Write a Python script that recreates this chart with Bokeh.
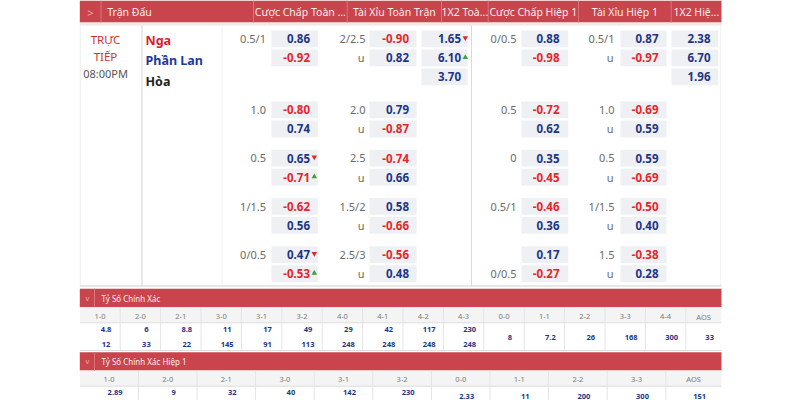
from bokeh.plotting import figure
from bokeh.models import Range1d, ColumnDataSource
from bokeh.core.properties import value
from bokeh.embed import file_html
from bokeh.resources import INLINE

# ---------------- data ----------------
header_titles = ["Trận Đấu", "Cược Chấp Toàn ...", "Tài Xỉu Toàn Trận", "1X2 Toà...",
                 "Cược Chấp Hiệp 1", "Tài Xỉu Hiệp 1", "1X2 Hiệ..."]
status_lines = ["TRỰC", "TIẾP"]
kickoff_time = "08:00PM"
team_names = ["Nga", "Phần Lan", "Hòa"]

ft_hdp_lines = ["0.5/1", "1.0", "0.5", "1/1.5", "0/0.5"]
ft_hdp_home = [0.86, -0.80, 0.65, -0.62, 0.47]
ft_hdp_away = [-0.92, 0.74, -0.71, 0.56, -0.53]
ft_hdp_home_move = ["", "", "down", "", "down"]
ft_hdp_away_move = ["", "", "up", "", "up"]

ft_ou_lines = ["2/2.5", "2.0", "2.5", "1.5/2", "2.5/3"]
ft_ou_over = [-0.90, 0.79, -0.74, 0.58, -0.56]
ft_ou_under = [0.82, -0.87, 0.66, -0.66, 0.48]

ft_1x2 = [1.65, 6.10, 3.70]
ft_1x2_move = ["down", "up", ""]

ht_hdp_lines = ["0/0.5", "0.5", "0", "0.5/1", "0/0.5"]
ht_hdp_line_row = [0, 0, 0, 0, 1]
ht_hdp_home = [0.88, -0.72, 0.35, -0.46, 0.17]
ht_hdp_away = [-0.98, 0.62, -0.45, 0.36, -0.27]

ht_ou_lines = ["0.5/1", "1.0", "0.5", "1/1.5", "1.5"]
ht_ou_over = [0.87, -0.69, 0.59, -0.50, -0.38]
ht_ou_under = [-0.97, 0.59, -0.69, 0.40, 0.28]

ht_1x2 = [2.38, 6.70, 1.96]

cs_title = "Tỷ Số Chính Xác"
cs_labels = ["1-0", "2-0", "2-1", "3-0", "3-1", "3-2", "4-0", "4-1", "4-2", "4-3",
             "0-0", "1-1", "2-2", "3-3", "4-4", "AOS"]
cs_first = [4.8, 6, 8.8, 11, 17, 49, 29, 42, 117, 230, 8, 7.2, 26, 168, 300, 33]
cs_second = [12, 33, 22, 145, 91, 113, 248, 248, 248, 248, None, None, None, None, None, None]

ht_cs_title = "Tỷ Số Chính Xác Hiệp 1"
ht_cs_labels = ["1-0", "2-0", "2-1", "3-0", "3-1", "3-2", "0-0", "1-1", "2-2", "3-3", "AOS"]
ht_cs_first = [2.89, 9, 32, 40, 142, 230, 2.33, 11, 200, 300, 151]
ht_cs_two_line = [True, True, True, True, True, True, False, False, False, False, False]

# ---------------- style ----------------
FONT = value("Noto Sans")
RED_BG = "#c9444d"
HDR_TXT = "#fcecec"
SEP = "#d8737a"
BLUE = "#1d3585"
RED = "#e3262b"
BOX = "#eef0f3"
GRAY_TXT = "#6b6b6b"

p = figure(width=800, height=400, x_range=Range1d(0, 800), y_range=Range1d(400, 0),
           output_backend="svg", toolbar_location=None, min_border=0,
           x_axis_location=None, y_axis_location=None)
p.grid.visible = False
p.outline_line_color = None
p.background_fill_color = "white"
p.border_fill_color = "white"

rects = dict(left=[], right=[], top=[], bottom=[], color=[])
segs = dict(x0=[], y0=[], x1=[], y1=[], color=[])
texts = {a: dict(x=[], y=[], text=[], color=[], size=[], style=[]) for a in ("left", "center", "right")}
tris = dict(x=[], y=[], marker=[], color=[])


def box(l, r, t, b, c):
    rects["left"].append(l); rects["right"].append(r)
    rects["top"].append(t); rects["bottom"].append(b); rects["color"].append(c)


def seg(x0, y0, x1, y1, c):
    segs["x0"].append(x0); segs["y0"].append(y0)
    segs["x1"].append(x1); segs["y1"].append(y1); segs["color"].append(c)


def txt(x, y, s, c, size, style="normal", align="left"):
    d = texts[align]
    d["x"].append(x); d["y"].append(y); d["text"].append(s)
    d["color"].append(c); d["size"].append(f"{size}px"); d["style"].append(style)


def move(x, y, kind):
    if kind == "down":
        tris["x"].append(x); tris["y"].append(y - 1); tris["marker"].append("inverted_triangle"); tris["color"].append("#e3262b")
    elif kind == "up":
        tris["x"].append(x); tris["y"].append(y - 0.5); tris["marker"].append("triangle"); tris["color"].append("#3aa53a")


X0, X1 = 79.3, 721.0

# ---------------- top header ----------------
col_edges = [X0, 100.5, 253.0, 346.7, 441.0, 487.7, 578.0, 670.7, X1]
box(X0, X1, 0, 22, RED_BG)
box(X0, X1, 22, 25, "#eee8e8")
for e in col_edges[1:-1]:
    seg(e, 0, e, 22, SEP)
txt((col_edges[0] + col_edges[1]) / 2, 11.5, ">", "#eea7ac", 11, "normal", "center")
txt(106.7, 11.5, header_titles[0], HDR_TXT, 10.5)
for i, title in enumerate(header_titles[1:], start=2):
    txt((col_edges[i] + col_edges[i + 1]) / 2, 11.5, title, HDR_TXT, 10.5, "normal", "center")

# ---------------- match block ----------------
BLOCK_TOP, BLOCK_BOT = 25, 285.5
seg(X0 + 0.5, BLOCK_TOP, X0 + 0.5, BLOCK_BOT, "#efefef")
seg(141.5, BLOCK_TOP, 141.5, BLOCK_BOT, "#d2d2d2")
seg(221.5, BLOCK_TOP, 221.5, BLOCK_BOT, "#f0f0f0")
seg(471.0, BLOCK_TOP, 471.0, BLOCK_BOT, "#dadada")
seg(X1 - 1, BLOCK_TOP, X1 - 1, BLOCK_BOT, "#f3f3f3")
seg(X0, BLOCK_BOT, X1, BLOCK_BOT, "#cfcfcf")

status_y = [39, 55.5]
for s, y in zip(status_lines, status_y):
    txt(105, y, s, "#cf2f35", 11.5, "normal", "center")
txt(105, 72.7, kickoff_time, "#555555", 11, "normal", "center")

team_colors = ["#d6232b", "#20399a", "#222222"]
team_y = [40, 60, 80.5]
for name, c, y in zip(team_names, team_colors, team_y):
    txt(145, y, name, c, 12.5, "bold")

GROUP_TOPS = [30, 101, 149.3, 197.5, 245.7]
ROW = 19.0
BOX_H = 16.7


def rc(g, r):
    return GROUP_TOPS[g] + r * ROW + BOX_H / 2


def odd_cell(bl, br, vr, g, r, v, mv=""):
    top = GROUP_TOPS[g] + r * ROW
    box(bl, br, top, top + BOX_H, BOX)
    txt(vr, rc(g, r), f"{v:.2f}", RED if v < 0 else BLUE, 11.5, "bold", "right")
    move(vr + 4.3, rc(g, r), mv)


# full time handicap
for g in range(5):
    txt(265.5, rc(g, 0), ft_hdp_lines[g], GRAY_TXT, 11, "normal", "right")
    odd_cell(271, 317.3, 309.5, g, 0, ft_hdp_home[g], ft_hdp_home_move[g])
    odd_cell(271, 317.3, 309.5, g, 1, ft_hdp_away[g], ft_hdp_away_move[g])
# full time over/under
for g in range(5):
    txt(365, rc(g, 0), ft_ou_lines[g], GRAY_TXT, 11, "normal", "right")
    txt(364, rc(g, 1), "u", GRAY_TXT, 11, "normal", "right")
    odd_cell(369, 416, 408.5, g, 0, ft_ou_over[g])
    odd_cell(369, 416, 408.5, g, 1, ft_ou_under[g])
# full time 1x2
for r, v in enumerate(ft_1x2):
    odd_cell(421, 467, 460.5, 0, r, v, ft_1x2_move[r])
# half time handicap
for g in range(5):
    txt(516, rc(g, ht_hdp_line_row[g]), ht_hdp_lines[g], GRAY_TXT, 11, "normal", "right")
    odd_cell(521, 567.7, 559, g, 0, ht_hdp_home[g])
    odd_cell(521, 567.7, 559, g, 1, ht_hdp_away[g])
# half time over/under
for g in range(5):
    txt(614, rc(g, 0), ht_ou_lines[g], GRAY_TXT, 11, "normal", "right")
    txt(613, rc(g, 1), "u", GRAY_TXT, 11, "normal", "right")
    odd_cell(620, 666, 658, g, 0, ht_ou_over[g])
    odd_cell(620, 666, 658, g, 1, ht_ou_under[g])
# half time 1x2
for r, v in enumerate(ht_1x2):
    odd_cell(671, 717.7, 710, 0, r, v)


# ---------------- correct score sections ----------------
def fmt(v):
    return f"{v:g}"


def score_section(top, title, labels, first, second, two_line, col_w, lab_y, y1, y2, ysingle, bottom):
    hdr_bot = top + 18.4
    lab_bot = hdr_bot + 15.6
    box(X0, X1, top, hdr_bot, RED_BG)
    seg(94, top, 94, hdr_bot, SEP)
    txt(86.8, (top + hdr_bot) / 2, "v", "#eea7ac", 7.5, "normal", "center")
    txt(101, (top + hdr_bot) / 2, title, HDR_TXT, 8)
    box(X0, X1, hdr_bot, lab_bot, "#f4f4f4")
    seg(X0, lab_bot, X1, lab_bot, "#dddddd")
    seg(X0, bottom, X1, bottom, "#dddddd")
    n = len(labels)
    edges = [X0 + col_w * i for i in range(n)] + [X1]
    for e in edges[1:-1]:
        seg(e, hdr_bot, e, bottom, "#e4e4e4")
    for i in range(n):
        cx = (edges[i] + edges[i + 1]) / 2
        txt(cx, lab_y, labels[i], "#7a7a7a", 7.5, "normal", "center")
        if two_line[i]:
            txt(cx + 6, y1, fmt(first[i]), BLUE, 7.5, "bold", "center")
            if second[i] is not None:
                txt(cx + 6, y2, fmt(second[i]), BLUE, 7.5, "bold", "center")
        else:
            txt(cx + 6, ysingle, fmt(first[i]), BLUE, 7.5, "bold", "center")


score_section(288.3, cs_title, cs_labels, cs_first, cs_second,
              [s is not None for s in cs_second], 40.4, 316.0, 329.0, 344.0, 336.7, 350.0)
score_section(351.7, ht_cs_title, ht_cs_labels, ht_cs_first, [None] * len(ht_cs_first),
              ht_cs_two_line, 58.6, 378.5, 392.2, 407.0, 395.5, 420.0)

# ---------------- render ----------------
p.quad(source=ColumnDataSource(rects), left="left", right="right", top="top", bottom="bottom",
       fill_color="color", line_color=None)
p.segment(source=ColumnDataSource(segs), x0="x0", y0="y0", x1="x1", y1="y1",
          line_color="color", line_width=1)
for align, d in texts.items():
    if d["x"]:
        p.text(source=ColumnDataSource(d), x="x", y="y", text="text", text_color="color",
               text_font_size="size", text_font_style="style", text_align=align,
               text_baseline="middle", text_font=FONT)
p.scatter(source=ColumnDataSource(tris), x="x", y="y", marker="marker", size=5.5,
          fill_color="color", line_color=None)

open("out.html", "w").write(file_html(p, INLINE))
